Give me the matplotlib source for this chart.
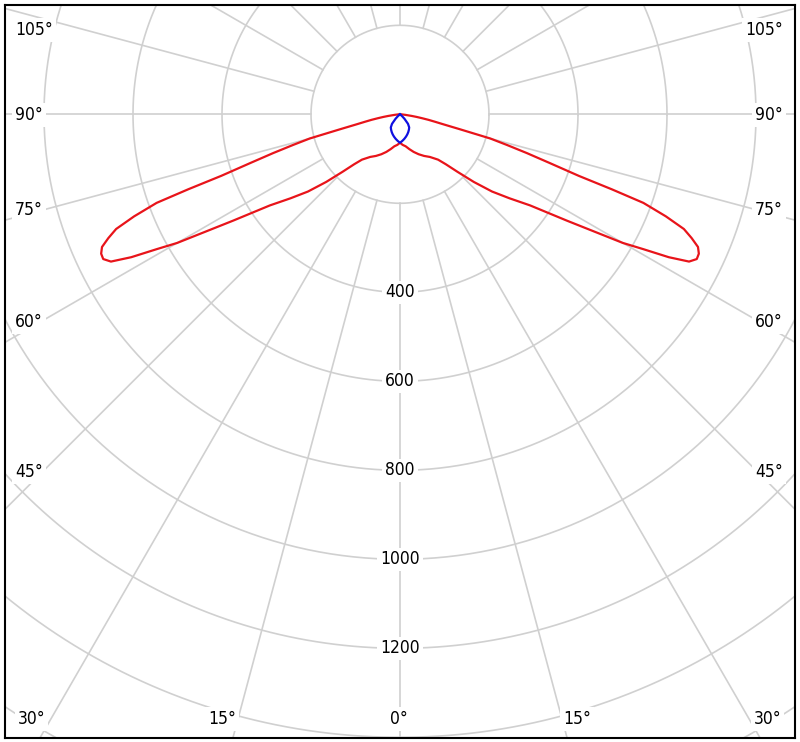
import numpy as np
from matplotlib import pyplot as plt
from matplotlib import font_manager as fm

# luminous intensity, cd, by angle from nadir (same on both halves)
red_deg = [0, 5, 10, 15, 20, 25, 30, 35, 40, 42.5, 45, 47.5, 50, 52.5, 55, 57.5,
           60, 61, 62, 63, 64, 65, 66, 67, 68, 69, 70, 70.5, 71, 72, 73, 74, 75,
           76, 77, 78, 79, 80, 81, 82, 84, 86, 88, 90]
red_cd = [64, 69, 73, 81, 90, 99, 108, 117, 133, 152, 183, 225, 270, 310, 357, 445,
          578, 625, 684, 729, 742, 741, 733, 712, 688, 640, 582, 505, 425, 352, 298, 250, 210,
          138, 100, 80, 65, 50, 38, 27, 12, 5, 1, 0]

blue_deg = [0, 5, 10, 15, 20, 25, 30, 35, 40, 45, 48, 50, 52, 90]
blue_cd = [64, 60, 56, 52, 48, 44, 40, 36, 28, 14, 7, 3, 0, 0]

ring_values = [200, 400, 600, 800, 1000, 1200, 1400, 1600]
ring_labels = [400, 600, 800, 1000, 1200]
spoke_step = 15

# angle labels: (text, x px, y px, ha)
angle_labels = [("105°", 15, 30, 'left'), ("90°", 15, 115, 'left'), ("75°", 15, 210, 'left'),
                ("60°", 15, 322, 'left'), ("45°", 15, 472, 'left'), ("30°", 18, 719, 'left'),
                ("105°", 783, 30, 'right'), ("90°", 783, 115, 'right'), ("75°", 783, 210, 'right'),
                ("60°", 783, 322, 'right'), ("45°", 783, 472, 'right'), ("30°", 781, 719, 'right'),
                ("15°", 222, 719, 'center'), ("0°", 399, 719, 'center'), ("15°", 577, 719, 'center')]

W, H = 800, 742
cx, cy = 400, 114.3      # pole in pixels
scale = 0.445            # px per cd

# condensed Verdana-like face if there is one
font = 'Liberation Sans'
stretch = 'normal'
try:
    f = fm.findfont(fm.FontProperties(family='DejaVu Sans', stretch='condensed'),
                    fallback_to_default=False)
    if 'Condensed' in f:
        font, stretch = 'DejaVu Sans', 'condensed'
except Exception:
    pass

def to_xy(deg, cd, side):
    t = np.radians(np.asarray(deg, float))
    r = np.asarray(cd, float)
    return side * r * np.sin(t), -r * np.cos(t)

def both_sides(deg, cd):
    xl, yl = to_xy(deg, cd, -1)
    xr, yr = to_xy(deg, cd, 1)
    return np.concatenate([xl[::-1], xr[1:]]), np.concatenate([yl[::-1], yr[1:]])

fig = plt.figure(figsize=(8, 7.42), dpi=100)
ax = fig.add_axes([5 / W, 4 / H, 790 / W, 733 / H])
ax.set_xlim(-395 / scale, 395 / scale)
ax.set_ylim(-(738 - cy) / scale, (cy - 5) / scale)
ax.set_xticks([]); ax.set_yticks([])
for s in ax.spines.values():
    s.set_linewidth(1.5); s.set_color('black')

grid_c = '#d0d0d0'
tt = np.linspace(0, 2 * np.pi, 721)
for rv in ring_values:
    ax.plot(rv * np.cos(tt), rv * np.sin(tt), color=grid_c, lw=1.2, zorder=1)
for a in range(0, 360, spoke_step):
    t = np.radians(a)
    ax.plot([200 * np.sin(t), 2200 * np.sin(t)], [-200 * np.cos(t), -2200 * np.cos(t)],
            color=grid_c, lw=1.2, zorder=1)

x, y = both_sides(red_deg, red_cd)
ax.plot(x, y, color='#e8141a', lw=1.6, zorder=3)
x, y = both_sides(blue_deg, blue_cd)
ax.plot(x, y, color='#1010e0', lw=1.6, zorder=4)

box = dict(facecolor='white', edgecolor='none', pad=2)
for rv in ring_labels:
    ax.text(0, -rv, str(rv), ha='center', va='center', fontsize=12.5, family=font,
            stretch=stretch, bbox=box, zorder=5)
for txt, px, py, ha in angle_labels:
    ax.text(px / W, 1 - py / H, txt, transform=fig.transFigure, ha=ha, va='center',
            fontsize=12.5, family=font, stretch=stretch, bbox=box, zorder=5)

fig.savefig('out.png', dpi=100)
